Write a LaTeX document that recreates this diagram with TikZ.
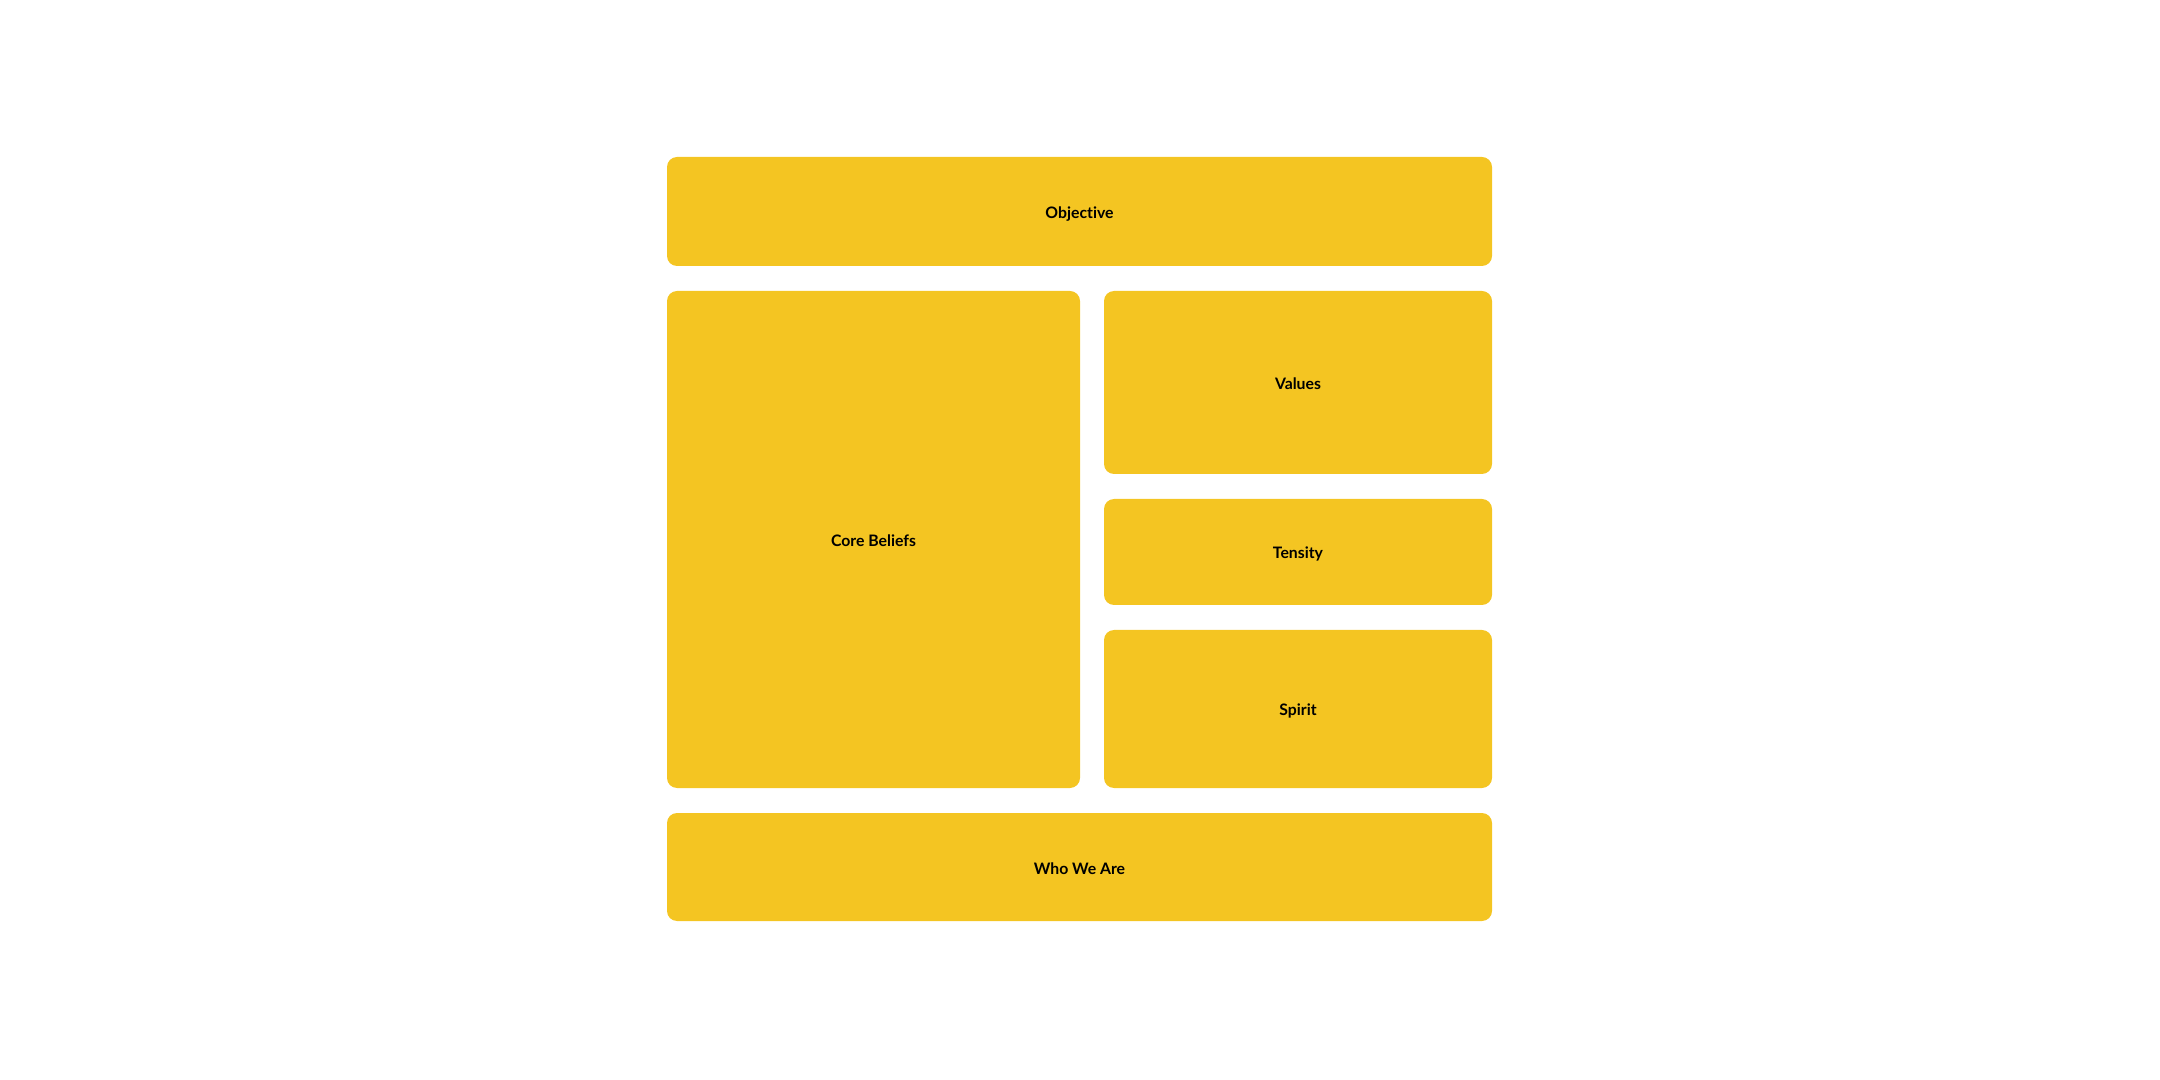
\documentclass[tikz,border=0pt]{standalone}
\usepackage{fontspec}
\setmainfont{Lato}[Ligatures=NoCommon]
\usepackage{tikz}
\usetikzlibrary{positioning}
\definecolor{boxyellow}{HTML}{F4C522}

\begin{document}
\begin{tikzpicture}[auto,node distance=12.5pt,
 main box/.style={rectangle, rounded corners=5pt, fill=boxyellow, draw=none,
   outer sep=0pt, inner sep=0pt, text height=7pt, text depth=0pt,
   font=\fontsize{7.9}{9.5}\selectfont\bfseries}]
  \useasboundingbox (0,0) rectangle (1080pt,-540pt);

  \node[main box, minimum width=412.5pt, minimum height=54.5pt] (obj) at (539.75pt,-105.75pt) {Objective};
  \node[main box, minimum width=206.5pt, minimum height=248.5pt] (core) [below right=12.5pt and 0pt of obj.south west] {Core Beliefs};
  \node[main box, minimum width=194pt, minimum height=91.5pt] (val) [right=12pt of core.north east, anchor=north west] {Values};
  \node[main box, minimum width=194pt, minimum height=53pt] (ten) [below=of val] {Tensity};
  \node[main box, minimum width=194pt, minimum height=79pt] (spi) [below=of ten] {Spirit};
  \node[main box, minimum width=412.5pt, minimum height=54pt] (who) [below right=12.5pt and 0pt of core.south west] {Who We Are};
\end{tikzpicture}
\end{document}
